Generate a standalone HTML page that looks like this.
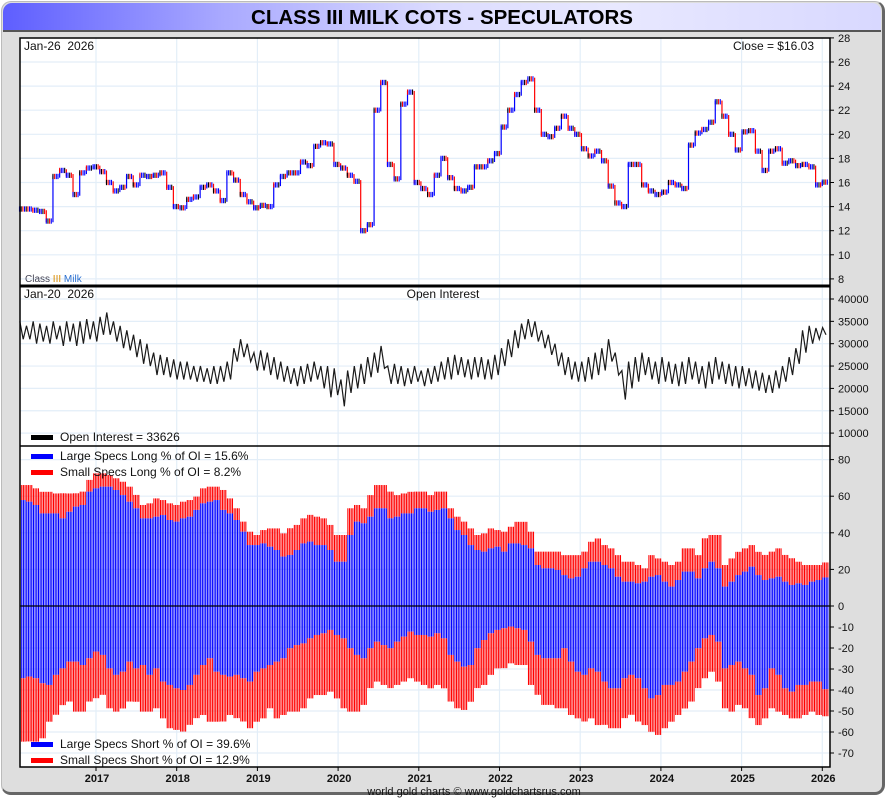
<!DOCTYPE html>
<html><head><meta charset="utf-8"><title>Class III Milk COTs - Speculators</title>
<style>
html,body{margin:0;padding:0;}
body{width:890px;height:800px;overflow:hidden;background:#fff;font-family:"Liberation Sans",sans-serif;}
#frame{position:absolute;left:1px;top:1px;width:884px;height:794px;border-radius:10px;background:#dedede;border:1px solid #bbb;border-right:3px solid #666;border-bottom:3px solid #666;box-sizing:border-box;}
#title{position:absolute;left:3px;top:3px;width:878px;height:27px;border-radius:9px 9px 0 0;background:linear-gradient(90deg,#5e5eff 0%,#a9a9ff 25%,#dcdcff 50%,#e8e8ff 70%,#d8d8ff 100%);border-bottom:2px solid #555;text-align:center;font:bold 20.5px "Liberation Sans",sans-serif;line-height:29px;color:#000;}
svg{position:absolute;left:0;top:0;}
</style></head><body>
<div id="frame"></div>
<div id="title">CLASS III MILK COTS - SPECULATORS</div>
<svg id="chart" width="890" height="800" font-family="Liberation Sans, sans-serif"></svg>
<script>
// ---- data (monthly, Jan 2016 .. Jan 2026) ----
const years = ['2017','2018','2019','2020','2021','2022','2023','2024','2025','2026'];
const price = [13.8,13.8,13.7,13.6,12.8,16.5,17.0,16.6,15.0,16.8,17.2,17.3,
16.9,16.0,15.3,15.6,16.5,15.8,16.6,16.5,16.6,16.8,15.6,14.0,
13.9,14.6,14.8,15.6,15.8,15.3,14.5,16.8,16.2,15.0,14.4,13.9,
14.1,14.0,15.8,16.5,16.8,16.8,17.7,17.4,19.0,19.3,19.2,17.5,
17.2,16.6,16.1,12.0,12.5,22.0,24.3,17.5,16.3,22.5,23.5,16.0,
15.5,15.0,16.6,18.0,16.4,15.5,15.3,15.6,17.3,17.3,17.8,18.4,
20.6,22.0,23.3,24.3,24.6,22.0,20.0,19.8,20.5,21.5,20.5,20.0,
18.8,18.2,18.6,17.8,15.7,14.3,14.0,17.5,17.5,15.8,15.3,15.0,
15.2,16.0,15.8,15.5,19.1,20.1,20.4,21.0,22.7,21.5,20.0,18.7,
20.2,20.3,18.6,17.0,18.6,18.8,17.6,17.8,17.4,17.5,17.3,15.8,16.03];
const oiHi = [35,34,35,34.5,34,35,34,35,34.5,35,35.5,35,
36,37,35,34,33,32,31,30,28,27.5,27,26.5,
26,26,25,25,24.5,25,25,26,29,31,30,28,
28.5,28,27,26,25,24.5,25,25.5,26,25,25,24.5,
22,24,25,25.5,27,28,29.5,25,25.5,25,24.5,25,
24,24.5,25,26,27,27.5,27,26.5,27,27,26.5,27.5,
29,31,33,34.5,35.5,35,33,32,30,28,27,26,
26,27,28,29,31,28,24,26,27,28,27,26,
27,26,25.5,26,27,26,25,26,27,26,25.5,25,
25,24.5,24,23.5,23,24,25,27,29,33,34,33.5,33.6];
const oiLo = [31,31,30,30.5,30,31,29.5,30.5,29.5,30,31,30.5,
32,32,30.5,29,28.5,27,25.5,25,23,23,22.5,22,
22,22,21.5,21.5,21,21,21.5,22,26,27,26,24,
24,23,22,21.5,21,20.5,21,21.5,22,20,18,18.5,
16,19,20,21,22.5,23.5,24.5,21,21,20.5,21,21.5,
20.5,21,21.5,22,22,23,22.5,22,22.5,22,22,23,
25,27,29,31,31.5,30.5,29,27.5,25,23,22,21.5,
21.5,22,23,24,26,23,17.5,20,21.5,23,22,21,
21.5,21,20.5,21,22,21,20,21,22,21,20.5,20,
20.5,20,19.5,19,19,20,21.5,23,25.5,28,30,31,32];
const largeLong = [57.9,57.0,55.2,50.6,50.6,50.6,47.9,51.5,54.3,55.2,62.5,64.3,
65.2,65.2,63.4,60.6,57.0,53.4,47.9,47.9,48.8,49.7,47.0,46.1,
47.9,48.8,52.5,56.1,57.0,57.9,52.5,50.6,47.0,40.6,33.3,33.3,
34.2,32.4,30.6,27.0,27.9,30.6,34.2,35.2,33.3,33.3,30.6,24.2,
24.2,38.8,46.1,45.2,48.8,53.4,53.4,47.9,48.8,50.6,50.6,53.4,
53.4,51.5,52.5,53.4,47.9,41.5,38.8,33.3,30.6,29.7,31.5,32.4,
29.7,34.2,34.2,33.3,31.5,22.4,20.6,20.6,19.7,16.9,15.1,16.0,
20.6,24.2,24.2,22.4,20.6,16.0,13.3,13.3,12.4,13.3,16.0,16.9,
13.3,10.6,14.2,18.8,18.8,15.1,20.6,24.2,20.6,10.6,13.3,16.9,
18.8,21.5,16.9,14.2,15.1,16.0,13.3,11.5,12.4,11.5,13.3,14.2,15.6];
const smallLong = [8.2,9.1,9.1,11.8,11.8,10.9,13.7,10.0,7.3,7.3,6.4,8.2,
7.3,6.4,6.4,7.3,8.2,7.3,7.3,8.2,10.0,8.2,9.1,9.1,
9.1,9.1,7.3,8.2,8.2,7.3,10.9,8.2,6.4,5.5,7.3,5.5,
7.3,10.0,11.8,12.7,14.6,13.7,13.7,14.6,15.5,14.6,13.7,14.6,
14.6,14.6,9.1,8.2,11.8,12.7,12.7,14.6,11.8,10.9,11.8,9.1,
9.1,9.1,10.0,9.1,5.5,7.3,7.3,9.1,8.2,10.0,10.9,9.1,
10.9,9.1,11.8,12.7,9.1,7.3,9.1,9.1,10.0,10.9,12.7,11.8,
9.1,10.9,12.7,10.9,10.9,11.8,10.9,10.9,10.0,7.3,11.8,9.1,
10.9,11.8,10.0,12.7,12.7,12.7,16.4,14.6,18.2,11.8,12.7,12.7,
12.7,11.8,12.7,13.7,14.6,15.5,14.6,14.6,11.8,10.9,9.1,8.2,8.2];
const largeShort = [34.4,33.6,34.4,36.8,37.6,32.8,29.7,26.5,26.5,28.1,24.9,21.7,
23.3,29.7,32.8,31.3,26.5,29.7,28.1,32.8,29.7,36.0,37.6,39.2,
40.0,37.6,32.8,28.1,24.9,31.3,32.8,33.6,32.8,34.4,36.0,31.3,
29.7,28.1,26.5,24.9,20.1,18.6,17.8,15.4,13.8,13.0,11.4,13.8,
15.4,20.1,23.3,24.9,20.1,17.0,18.6,20.1,17.0,14.6,12.2,13.8,
13.8,14.6,13.0,15.4,23.3,26.5,28.9,28.1,20.1,16.2,13.0,11.4,
10.6,9.8,10.6,11.4,17.0,23.3,24.9,24.9,24.9,20.1,26.5,31.3,
32.8,29.7,31.3,36.0,39.2,39.2,34.4,32.8,34.4,39.2,44.0,42.4,
37.6,37.6,36.0,31.3,26.5,20.1,15.4,13.8,17.0,29.7,28.1,26.5,
29.7,32.8,42.4,39.2,29.7,32.8,39.2,40.8,37.6,37.6,36.0,36.0,39.6];
const smallShort = [30.2,30.9,30.2,26.2,17.5,19.0,17.5,19.0,23.8,22.2,20.6,22.2,
19.0,19.0,17.5,17.5,19.0,15.9,22.2,17.5,19.0,17.5,20.6,19.8,
19.8,19.0,20.6,23.8,30.2,23.8,22.2,18.3,20.6,20.6,22.2,23.8,
23.8,20.6,27.0,27.0,30.2,31.7,30.9,28.6,28.6,29.4,29.4,30.2,
33.3,30.2,27.0,22.2,19.0,19.0,19.0,19.0,20.6,21.4,22.2,22.2,
23.8,24.6,24.6,23.8,22.2,22.2,20.6,17.5,19.0,21.4,19.8,18.3,
19.0,17.5,17.5,16.7,20.6,19.0,22.2,22.2,23.8,28.6,25.4,22.2,
22.2,23.8,25.4,20.6,19.0,19.0,19.0,19.0,20.6,17.5,15.9,19.0,
20.6,17.5,15.9,17.5,19.0,19.0,19.0,17.5,19.0,19.0,22.2,20.6,
19.0,20.6,14.3,14.3,19.0,17.5,12.7,12.7,15.9,14.3,14.3,15.9,12.9];
const priceTicks = [28,26,24,22,20,18,16,14,12,10,8];
const oiTicks = [40000,35000,30000,25000,20000,15000,10000];
const cotTicks = [80,60,40,20,0,-10,-20,-30,-40,-50,-60,-70];

// ---- scales ----
const L=20, R=830;
const yearX = y => 96 + (y-2017)*80.7;
const xM = m => L + (m+0.3)*6.69;
const yP = v => 62 + (26-v)*12.05;
const yO = k => 299 + (40-k)*4.47;
const yPos = v => 606 - v*1.83;
const yNeg = v => 606 + v*2.1;
const yC = v => v>=0 ? yPos(v) : yNeg(-v);

const NS='http://www.w3.org/2000/svg';
const svg=document.getElementById('chart');
function mk(tag, attrs, parent){const e=document.createElementNS(NS,tag);for(const k in attrs)e.setAttribute(k,attrs[k]);(parent||svg).appendChild(e);return e;}

let bg=mk('rect',{x:L,y:38,width:R-L,height:729,fill:'#fff'});



const grid=mk('g',{stroke:'#e3eef8','stroke-width':1.2});


years.forEach((y,i)=>{mk('line',{x1:yearX(2017+i),x2:yearX(2017+i),y1:38,y2:767},grid);});
priceTicks.forEach(v=>mk('line',{x1:L,x2:R,y1:yP(v),y2:yP(v)},grid));
oiTicks.forEach(v=>mk('line',{x1:L,x2:R,y1:yO(v/1000),y2:yO(v/1000)},grid));
cotTicks.forEach(v=>mk('line',{x1:L,x2:R,y1:yC(v),y2:yC(v)},grid));

const cot=mk('g',{});


for(let m=0;m<largeLong.length;m++){
  for(let j=0;j<4;j++){
    const x=xM(m)-2.5+j*1.67;
    if(x>R-2) continue;
    const ll=largeLong[m], sl=smallLong[m], ls=largeShort[m], ss=smallShort[m];
    const r1=mk('rect',{x:x,y:yPos(ll+sl),width:1.1,height:yPos(ll)-yPos(ll+sl),fill:'#ff0000'},cot);
    
    
    const r2=mk('rect',{x:x,y:yPos(ll),width:1.1,height:606-yPos(ll),fill:'#0000ff'},cot);
    
    
    const r3=mk('rect',{x:x,y:606,width:1.1,height:yNeg(ls)-606,fill:'#0000ff'},cot);
    
    
    const r4=mk('rect',{x:x,y:yNeg(ls),width:1.1,height:yNeg(ls+ss)-yNeg(ls),fill:'#ff0000'},cot);
    
    
  }
}
let zl=mk('line',{x1:L,x2:R,y1:606,y2:606,stroke:'#000','stroke-width':1.3});



const pg=mk('g',{});


const cols=['#0000ff','#000','#ff0000','#0000ff'];
for(let m=0;m<price.length;m++){
  const v=price[m], p=m>0?price[m-1]:v;
  const x=xM(m)-2.5;
  if(Math.abs(v-p)>0.05){
    const t=mk('line',{x1:x,x2:x,y1:yP(Math.max(v,p)+0.1),y2:yP(Math.min(v,p)-0.1),stroke:v>p?'#0000ff':'#ff0000','stroke-width':1.2},pg);
    
    
  }
  for(let j=0;j<4;j++){
    const xx=x+j*1.67;
    if(xx>R-2) continue;
    const b=mk('line',{x1:xx,x2:xx,y1:yP(v+0.22),y2:yP(v-0.22),stroke:cols[(j+m)%4],'stroke-width':1.1},pg);
    
    
  }
}

let pts=[];
for(let m=0;m<oiHi.length;m++){pts.push(xM(m)-2.2+','+yO(oiHi[m]));pts.push(Math.min(xM(m)+1.2,826)+','+yO(oiLo[m]));}
let oil=mk('polyline',{points:pts.join(' '),fill:'none',stroke:'#1a1a1a','stroke-width':1.2,'stroke-linejoin':'miter'});



let pb=mk('rect',{x:L,y:38,width:R-L,height:729,fill:'none',stroke:'#000','stroke-width':1.5});


let s1=mk('line',{x1:L,x2:R,y1:286,y2:286,stroke:'#000','stroke-width':3});


let s2=mk('line',{x1:L,x2:R,y1:446,y2:446,stroke:'#000','stroke-width':1.5});



function tickLabel(y,txt,name){
  const t=mk('line',{x1:R,x2:R+4,y1:y,y2:y,stroke:'#000','stroke-width':1});
  
  
  const tx=mk('text',{x:R+8,y:y+4,'font-size':11,fill:'#111'});
  tx.textContent=txt;
  
  
}
priceTicks.forEach(v=>tickLabel(yP(v),String(v),'price-axis'));
oiTicks.forEach(v=>tickLabel(yO(v/1000),String(v),'oi-axis'));
cotTicks.forEach(v=>tickLabel(yC(v),String(v),'cot-axis'));
years.forEach((y,i)=>{
  const t=mk('line',{x1:yearX(2017+i),x2:yearX(2017+i),y1:767,y2:771,stroke:'#000'});
  
  
  const tx=mk('text',{x:yearX(2017+i)+1,y:782,'font-size':11,'font-weight':'bold','text-anchor':'middle',fill:'#111'});
  tx.textContent=y;
  
  
});

function txt(x,y,s,size,name,extra){
  const t=mk('text',Object.assign({x:x,y:y,'font-size':size,fill:'#111'},extra||{}));
  t.textContent=s;
  
  
  return t;
}
txt(24,50,'Jan-26\u00a0\u00a02026',12,'price-date-label');
txt(814,50,'Close = $16.03',12,'close-price-label',{'text-anchor':'end'});
txt(24,298,'Jan-20\u00a0\u00a02026',12,'oi-date-label');
txt(443,298,'Open Interest',12,'oi-panel-title',{'text-anchor':'middle'});
const cl=txt(25,282,'',10,'series-name-label');
cl.innerHTML='<tspan fill="#445">Class </tspan><tspan fill="#d98b00">III</tspan><tspan fill="#2a6fd0"> Milk</tspan>';
txt(474,795,'world gold charts © www.goldchartsrus.com',11,'footer-credit',{'text-anchor':'middle'});

function legend(y,color,label,name){
  const g=mk('g',{});
  
  
  mk('rect',{x:31,y:y-6,width:22,height:5,fill:color},g);
  const t=mk('text',{x:60,y:y,'font-size':12,fill:'#111'},g);
  t.textContent=label;
}
legend(441,'#000','Open Interest = 33626','legend-open-interest');
legend(460,'#0000ff','Large Specs Long % of OI = 15.6%','legend-large-long');
legend(476,'#ff0000','Small Specs Long % of OI = 8.2%','legend-small-long');
legend(748,'#0000ff','Large Specs Short % of OI = 39.6%','legend-large-short');
legend(764,'#ff0000','Small Specs Short % of OI = 12.9%','legend-small-short');
</script>
</body></html>
